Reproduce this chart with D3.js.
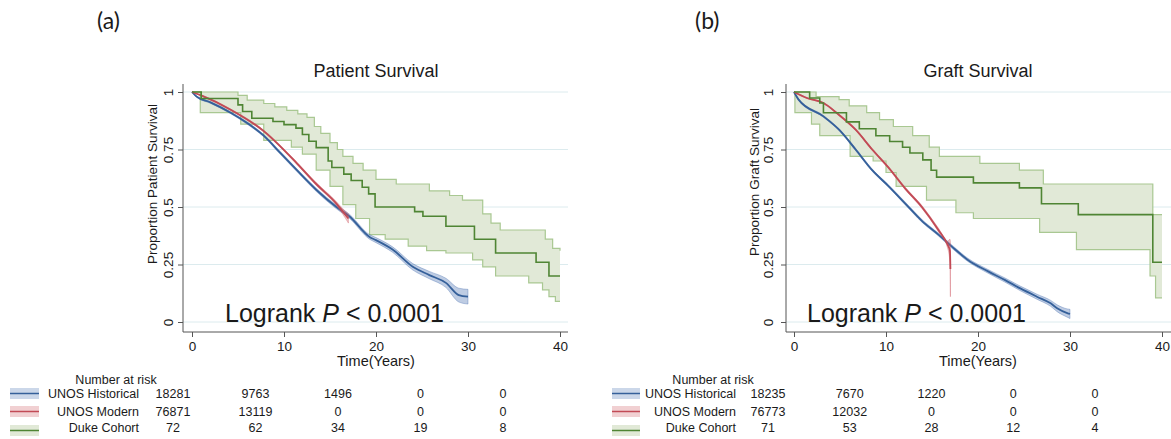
<!DOCTYPE html>
<html>
<head>
<meta charset="utf-8">
<script src="https://cdn.jsdelivr.net/npm/d3@7"></script>
<style>
  body { margin: 0; background: #fff; }
  text { font-family: "Liberation Sans", Arial, sans-serif; fill: #1a1a1a; }
</style>
</head>
<body>
<svg id="chart" width="1171" height="439"></svg>
<script>
// ---- data ----
const xTicks = [0, 10, 20, 30, 40]
const yTicks = [0, 0.25, 0.5, 0.75, 1]
const yTickLabels = ['0', '0.25', '0.5', '0.75', '1']
const groups = ['UNOS Historical', 'UNOS Modern', 'Duke Cohort']
const riskTimes = [0, 10, 20, 30, 40]

// (a) patient survival: [years, survival]
const patHist = [[0,1],[0.5,0.98],[2,0.955],[4.2,0.91],[6,0.865],[7.8,0.81],[9.6,0.735],[11.4,0.66],[13.5,0.575],[15.7,0.50],[17.1,0.46],[19.3,0.37],[20,0.356],[21.8,0.315],[24,0.24],[25.8,0.204],[27.6,0.17],[29,0.117],[30,0.11]]
const patHistCI = [0,0.003,0.004,0.004,0.005,0.005,0.006,0.006,0.007,0.008,0.009,0.01,0.011,0.012,0.014,0.016,0.02,0.03,0.032]
const patMod = [[0,1],[1,0.985],[4.2,0.923],[7.8,0.83],[11.4,0.69],[13.5,0.60],[15.7,0.515],[16.4,0.48],[17,0.45]]
const patModCI = [0,0.002,0.003,0.004,0.005,0.006,0.008,0.012,0.02]
const patDuke = [[0,1],[1,0.972],[5,0.944],[5.5,0.915],[6.5,0.886],[8.8,0.872],[10,0.858],[11.3,0.843],[12,0.815],[12.7,0.786],[13.5,0.758],[14.8,0.70],[15.2,0.672],[16.5,0.643],[17.3,0.615],[18.5,0.586],[19.2,0.557],[19.9,0.50],[24.2,0.48],[25.1,0.46],[27.6,0.416],[30.7,0.36],[33,0.30],[37.4,0.26],[38.8,0.20],[40,0.20]]
const patDukeHi = [[0,1],[5,0.985],[6,0.965],[7.8,0.95],[9,0.935],[10.3,0.92],[11.5,0.905],[12.5,0.89],[13.3,0.85],[14,0.82],[15,0.78],[15.8,0.75],[16.4,0.72],[17.5,0.69],[18.6,0.66],[20,0.62],[22.2,0.60],[25.8,0.57],[28,0.55],[29.4,0.53],[31.6,0.47],[32.5,0.43],[33.5,0.40],[38.4,0.36],[39.2,0.32],[40,0.31]]
const patDukeLo = [[0,1],[0.9,0.91],[5.3,0.86],[7.8,0.79],[10.8,0.76],[12,0.73],[13.5,0.66],[15,0.59],[16.4,0.51],[17.8,0.45],[19.3,0.38],[21,0.36],[23.5,0.33],[25.5,0.31],[27.6,0.30],[30.5,0.27],[31.6,0.24],[33,0.20],[36.6,0.17],[38.1,0.14],[38.8,0.11],[39.5,0.09],[40,0.09]]

// (b) graft survival
const grHist = [[0,1],[0.5,0.967],[3.2,0.894],[4.9,0.836],[6.7,0.75],[8.5,0.66],[10.3,0.59],[12.1,0.515],[13.9,0.44],[15.7,0.38],[17.1,0.33],[18.9,0.27],[21.1,0.22],[22.9,0.183],[24.6,0.146],[26.4,0.11],[27.9,0.081],[28.6,0.06],[29.7,0.039],[30,0.035]]
const grHistCI = [0,0.003,0.004,0.004,0.005,0.005,0.005,0.006,0.006,0.006,0.007,0.007,0.008,0.009,0.01,0.011,0.013,0.015,0.018,0.02]
const grMod = [[0,1],[1.4,0.974],[3.2,0.952],[4.9,0.90],[6.7,0.836],[8.5,0.75],[10.3,0.67],[12.1,0.58],[13.9,0.50],[15.7,0.40],[16.7,0.336],[16.95,0.31],[17,0.23]]
const grModCI = [0,0.002,0.002,0.003,0.003,0.004,0.004,0.005,0.006,0.008,0.015,0.05,0.12]
const grDuke = [[0,1],[1.7,0.974],[2.8,0.952],[3.2,0.91],[5.7,0.87],[7.1,0.84],[8.9,0.81],[10.4,0.785],[11.8,0.76],[12.6,0.735],[14,0.705],[14.9,0.66],[15.5,0.63],[19.5,0.605],[24.5,0.583],[26.9,0.514],[30.9,0.467],[39,0.26],[40,0.26]]
const grDukeHi = [[0,1],[2.4,0.98],[4.9,0.967],[6,0.94],[7.9,0.91],[9.3,0.88],[10.8,0.85],[12.9,0.81],[14.7,0.76],[15.8,0.72],[20.2,0.69],[24.5,0.66],[27.1,0.60],[39,0.467],[40,0.467]]
const grDukeLo = [[0,1],[0.1,0.91],[1.9,0.86],[2.8,0.81],[6.1,0.72],[8.6,0.70],[10,0.65],[11.1,0.59],[14.4,0.53],[17.6,0.475],[19.5,0.45],[26.7,0.39],[30.7,0.315],[38.7,0.20],[39.3,0.105],[40,0.105]]

// numbers at risk
const riskPatHist = [18281, 9763, 1496, 0, 0]
const riskPatMod = [76871, 13119, 0, 0, 0]
const riskPatDuke = [72, 62, 34, 19, 8]
const riskGrHist = [18235, 7670, 1220, 0, 0]
const riskGrMod = [76773, 12032, 0, 0, 0]
const riskGrDuke = [71, 53, 28, 12, 4]

const lineCol = ['#35609a', '#c24a55', '#4f8534']
const bandCol = ['rgba(70,110,175,0.35)', 'rgba(205,85,95,0.35)', '#e1e9d7']
const bandEdge = ['rgba(70,110,175,0.45)', 'rgba(205,85,95,0.45)', '#a9c892']

const svg = d3.select('#chart')

function drawPanel(p) {
  const x = d3.scaleLinear().domain([0, 40]).range(p.xRange)
  const y = d3.scaleLinear().domain([0, 1]).range([322, 92])
  const g = svg.append('g')

  g.append('text').attr('x', p.tagX).attr('y', 29)
    .style('font-family', 'Lato, "Open Sans", sans-serif').style('font-size', '23px').text(p.tag)
  g.append('text').attr('x', x(20)).attr('y', 77).attr('text-anchor', 'middle')
    .style('font-size', '18px').text(p.title)

  // grid
  g.selectAll('.grid').data(yTicks).enter().append('line')
    .attr('x1', p.axisX).attr('x2', p.gridEnd)
    .attr('y1', d => y(d)).attr('y2', d => y(d))
    .attr('stroke', '#dcebee').attr('stroke-width', 1)

  // axes
  const xAxis = g.append('g').attr('transform', 'translate(0,332)')
    .call(d3.axisBottom(x).tickValues(xTicks).tickSize(5).tickPadding(4).tickFormat(d3.format('d')))
  xAxis.select('.domain').remove()
  const yAxis = g.append('g').attr('transform', 'translate(' + p.axisX + ',0)')
    .call(d3.axisLeft(y).tickValues(yTicks).tickSize(5).tickFormat((d, i) => yTickLabels[i]))
  yAxis.select('.domain').remove()
  yAxis.selectAll('text')
    .attr('transform', 'rotate(-90)').attr('x', 0).attr('y', -p.yPad).attr('dy', 0)
    .style('text-anchor', 'middle')
  g.selectAll('.tick line').attr('stroke', '#555')
  g.selectAll('.tick text').style('font-size', '13.5px').style('font-family', '"Liberation Sans", Arial, sans-serif').attr('fill', '#1a1a1a')
  g.append('line').attr('x1', p.axisX).attr('x2', p.gridEnd).attr('y1', 332).attr('y2', 332).attr('stroke', '#555')
  g.append('line').attr('x1', p.axisX).attr('x2', p.axisX).attr('y1', 84).attr('y2', 332).attr('stroke', '#555')

  g.append('text').attr('x', x(20)).attr('y', 366).attr('text-anchor', 'middle')
    .style('font-size', '14.5px').text('Time(Years)')
  g.append('text').attr('transform', 'translate(' + p.yTitleX + ',' + p.yTitleY + ') rotate(-90)')
    .attr('text-anchor', 'middle').style('font-size', '13.5px').text(p.yTitle)

  // Duke CI band (step)
  const stepVal = (arr, t) => { let v = arr[0][1]; arr.forEach(d => { if (d[0] <= t) v = d[1] }); return v }
  const times = Array.from(new Set(p.dukeHi.map(d => d[0]).concat(p.dukeLo.map(d => d[0])))).sort((a, b) => a - b)
  const band = times.map(t => ({t: t, hi: stepVal(p.dukeHi, t), lo: stepVal(p.dukeLo, t)}))
  g.append('path').datum(band)
    .attr('d', d3.area().curve(d3.curveStepAfter).x(d => x(d.t)).y0(d => y(d.lo)).y1(d => y(d.hi)))
    .attr('fill', bandCol[2])
  const stepLine = d3.line().curve(d3.curveStepAfter).x(d => x(d[0])).y(d => y(d[1]))
  ;[p.dukeHi, p.dukeLo].forEach(arr => {
    g.append('path').datum(arr).attr('d', stepLine).attr('fill', 'none')
      .attr('stroke', bandEdge[2]).attr('stroke-width', 1.2)
  })

  // UNOS curves with CI
  const smooth = d3.line().curve(d3.curveMonotoneX).x(d => x(d[0])).y(d => y(d[1]))
  ;[[p.hist, p.histCI, 0], [p.mod, p.modCI, 1]].forEach(([pts, ci, k]) => {
    const rows = pts.map((d, i) => ({t: d[0], s: d[1], w: ci[i]}))
    g.append('path').datum(rows)
      .attr('d', d3.area().curve(d3.curveMonotoneX).x(d => x(d.t)).y0(d => y(d.s - d.w)).y1(d => y(Math.min(1, d.s + d.w))))
      .attr('fill', bandCol[k]).attr('stroke', bandEdge[k]).attr('stroke-width', 0.8)
    g.append('path').datum(pts).attr('d', smooth).attr('fill', 'none')
      .attr('stroke', lineCol[k]).attr('stroke-width', 1.8)
  })

  g.append('path').datum(p.duke).attr('d', stepLine).attr('fill', 'none')
    .attr('stroke', lineCol[2]).attr('stroke-width', 1.6)

  // logrank text
  const lr = g.append('text').attr('x', p.lrX).attr('y', 322).style('font-size', '25px')
  lr.append('tspan').text('Logrank ')
  lr.append('tspan').style('font-style', 'italic').text('P')
  lr.append('tspan').text(' < 0.0001')

  // risk table
  const rx = d3.scaleLinear().domain([0, 40]).range(p.riskRange)
  const rowY = [398, 416, 432]
  g.append('text').attr('x', p.riskTitleX).attr('y', 384).attr('text-anchor', 'middle')
    .style('font-size', '12.5px').text('Number at risk')
  groups.forEach((name, k) => {
    const sy = rowY[k] - 4.5 + (k === 2 ? 3 : 0)
    g.append('rect').attr('x', p.swatch[0]).attr('width', p.swatch[1] - p.swatch[0])
      .attr('y', sy - 5.5).attr('height', 11).attr('fill', bandCol[k]).attr('opacity', k === 2 ? 1 : 0.8)
    g.append('line').attr('x1', p.swatch[0]).attr('x2', p.swatch[1]).attr('y1', sy).attr('y2', sy)
      .attr('stroke', lineCol[k]).attr('stroke-width', 1.5)
    g.append('text').attr('x', p.labelRight).attr('y', rowY[k]).attr('text-anchor', 'end')
      .style('font-size', '12.5px').text(name)
    g.selectAll(null).data(p.risk[k]).enter().append('text')
      .attr('x', (d, i) => rx(riskTimes[i])).attr('y', rowY[k]).attr('text-anchor', 'middle')
      .style('font-size', '12.5px').text(d => d)
  })
}

drawPanel({
  tag: '(a)', tagX: 97, title: 'Patient Survival', yTitle: 'Proportion Patient Survival',
  xRange: [192, 560], axisX: 183, gridEnd: 568, yPad: 10, yTitleX: 157, yTitleY: 184, lrX: 225,
  hist: patHist, histCI: patHistCI, mod: patMod, modCI: patModCI,
  duke: patDuke, dukeHi: patDukeHi, dukeLo: patDukeLo,
  riskRange: [173, 503], riskTitleX: 116, swatch: [10, 39], labelRight: 139,
  risk: [riskPatHist, riskPatMod, riskPatDuke]
})
drawPanel({
  tag: '(b)', tagX: 695, title: 'Graft Survival', yTitle: 'Proportion Graft Survival',
  xRange: [794, 1162], axisX: 786, gridEnd: 1171, yPad: 13, yTitleX: 759, yTitleY: 182, lrX: 807,
  hist: grHist, histCI: grHistCI, mod: grMod, modCI: grModCI,
  duke: grDuke, dukeHi: grDukeHi, dukeLo: grDukeLo,
  riskRange: [768, 1095], riskTitleX: 713, swatch: [612, 640], labelRight: 736,
  risk: [riskGrHist, riskGrMod, riskGrDuke]
})
</script>
</body>
</html>
